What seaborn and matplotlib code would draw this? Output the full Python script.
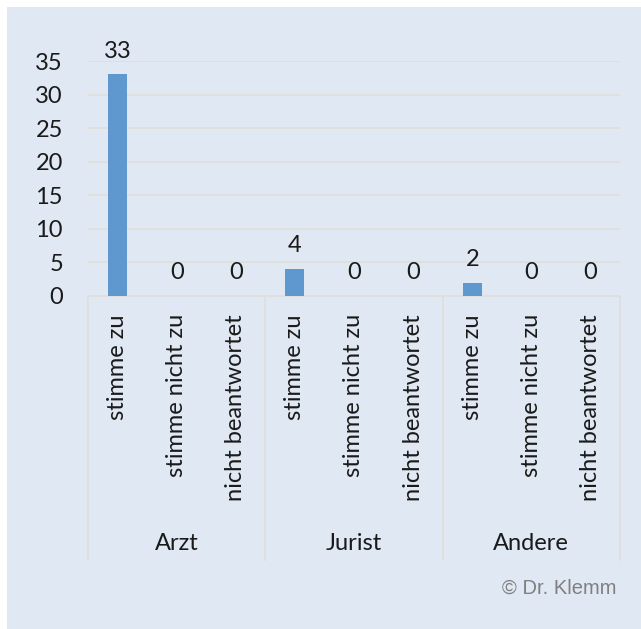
import matplotlib
matplotlib.use("Agg")
import matplotlib.pyplot as plt
import matplotlib.transforms as mtransforms
from matplotlib.patches import Rectangle
import seaborn as sns
import pandas as pd

groups = ["Arzt", "Jurist", "Andere"]
answers = ["stimme zu", "stimme nicht zu", "nicht beantwortet"]
arzt_values = [33, 0, 0]
jurist_values = [4, 0, 0]
andere_values = [2, 0, 0]
y_ticks = [0, 5, 10, 15, 20, 25, 30, 35]

values = arzt_values + jurist_values + andere_values
df = pd.DataFrame({
    "key": [f"{g}|{a}" for g in groups for a in answers],
    "answer": [a for g in groups for a in answers],
    "value": values,
})

sns.set_theme(style="white")
plt.rcParams["font.family"] = ["Lato", "DejaVu Sans"]

BG = "#dfe8f3"
BAR = "#5f98cf"
LINE = "#e0dfdd"
TXT = "#1a1a1a"
FS = 17

W, H = 641, 629
fig = plt.figure(figsize=(W / 100, H / 100), dpi=100)
fig.patch.set_facecolor("white")
fig.add_artist(Rectangle((7 / W, 0), 1 - 7 / W, 1 - 7 / H, transform=fig.transFigure,
                         facecolor=BG, edgecolor="none", zorder=0))

left, right = 88 / W, 620 / W
y0, ytop = 296, 61
ax = fig.add_axes([left, 1 - y0 / H, right - left, (y0 - ytop) / H])
ax.set_facecolor("none")

sns.barplot(data=df, x="key", y="value", color=BAR, width=0.32, ax=ax,
            saturation=1, linewidth=0, zorder=3)
ax.set_xlim(-0.5, len(values) - 0.5)
ax.set_ylim(0, 35)
ax.set_yticks(y_ticks)
ax.set_yticklabels([str(t) for t in y_ticks], fontsize=FS, color=TXT)
ax.tick_params(axis="y", length=0, pad=18)
for t in y_ticks[1:]:
    ax.axhline(t, color=LINE, lw=1.4, zorder=1)

ax.set_xticks(range(len(values)))
ax.set_xticklabels(df["answer"], rotation=90, fontsize=FS, color=TXT, va="top")
ax.tick_params(axis="x", length=0, pad=13)
ax.set_xlabel("")
ax.set_ylabel("")
for s in ax.spines.values():
    s.set_visible(False)

# value labels above each bar
for i, v in enumerate(values):
    ax.annotate(str(v), (i, v), xytext=(0, 12), textcoords="offset points",
                ha="center", va="baseline", fontsize=FS, color=TXT)

# category axis with group separators
axis_h = y0 - ytop
trans = mtransforms.blended_transform_factory(ax.transData, ax.transAxes)
depth = -(560 - y0) / axis_h
ax.plot([-0.5, len(values) - 0.5], [0, 0], transform=trans, color=LINE, lw=1.4,
        clip_on=False, zorder=2)
for k in range(len(groups) + 1):
    xs = k * len(answers) - 0.5
    ax.plot([xs, xs], [0, depth], transform=trans, color=LINE, lw=1.4,
            clip_on=False, zorder=2)
label_y = -(543 - y0) / axis_h
for k, g in enumerate(groups):
    ax.text(k * len(answers) + 1, label_y, g, transform=trans, ha="center",
            va="center", fontsize=FS, color=TXT)

fig.text(617 / W, 1 - 588 / H, "© Dr. Klemm", ha="right", va="center",
         fontsize=14.5, color="#808080", family=["Liberation Sans", "DejaVu Sans"])

fig.savefig("out.png", dpi=100, facecolor=fig.get_facecolor())
